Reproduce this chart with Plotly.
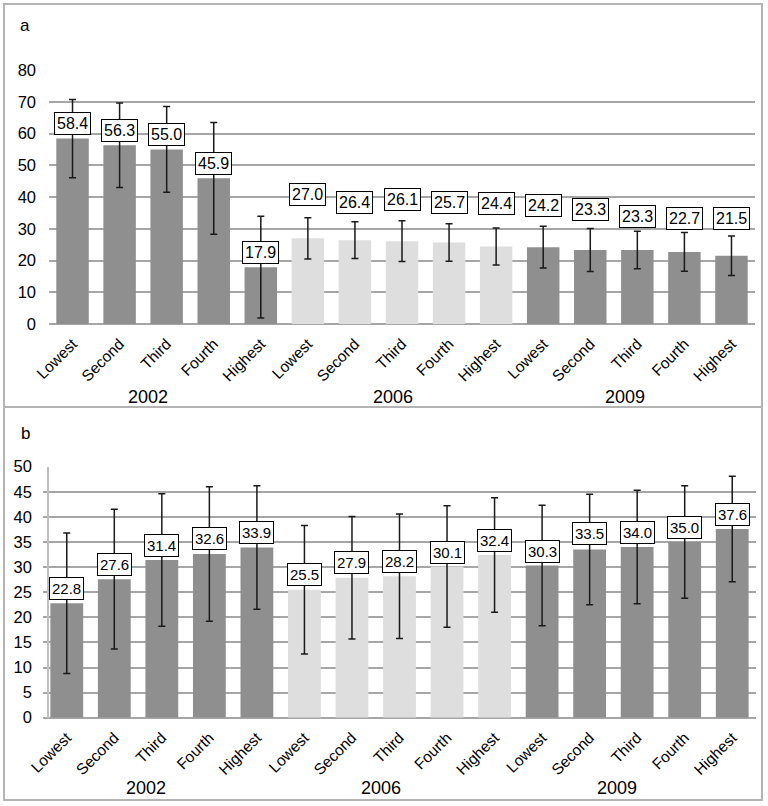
import plotly.graph_objects as go

# ---------------- data ----------------
quintiles = ["Lowest", "Second", "Third", "Fourth", "Highest"]
years = ["2002", "2006", "2009"]
categories = [q for _ in years for q in quintiles]

values_a = [58.4, 56.3, 55.0, 45.9, 17.9,
            27.0, 26.4, 26.1, 25.7, 24.4,
            24.2, 23.3, 23.3, 22.7, 21.5]
errors_a = [12.3, 13.3, 13.5, 17.6, 16.0,
            6.5, 5.8, 6.4, 5.9, 5.8,
            6.6, 6.8, 5.9, 6.1, 6.2]

values_b = [22.8, 27.6, 31.4, 32.6, 33.9,
            25.5, 27.9, 28.2, 30.1, 32.4,
            30.3, 33.5, 34.0, 35.0, 37.6]
errors_b = [14.0, 13.9, 13.2, 13.4, 12.3,
            12.8, 12.2, 12.4, 12.1, 11.4,
            12.0, 11.0, 11.3, 11.2, 10.5]

yticks_a = [0, 10, 20, 30, 40, 50, 60, 70, 80]
yticks_b = [0, 5, 10, 15, 20, 25, 30, 35, 40, 45, 50]

# ---------------- layout helpers (positions / styles) ----------------
# data-label centre heights (in axis units) as placed in the original
label_y_a = [63.0, 60.9, 59.6, 50.6, 22.5,
             40.9, 38.2, 39.1, 38.2, 37.8,
             37.3, 36.1, 33.8, 33.3, 33.3]
label_y_b = [25.7, 30.5, 34.3, 35.6, 36.9,
             28.5, 30.9, 31.2, 33.0, 35.3,
             33.1, 36.6, 36.9, 37.9, 40.5]

DARK = "#8f8f8f"
LIGHT = "#dedede"
GRID = "#a6a6a6"
W, H = 768, 806
FONT = "Liberation Sans, Arial, sans-serif"

year_colors = [DARK, LIGHT, DARK]
colors = [year_colors[i // len(quintiles)] for i in range(len(categories))]
xpos = list(range(len(categories)))


def px(x):
    return x / W


def py(y):
    return 1 - y / H


fig = go.Figure()

for vals, errs, xa, ya in [(values_a, errors_a, "x", "y"),
                           (values_b, errors_b, "x2", "y2")]:
    fig.add_trace(go.Bar(
        x=xpos, y=vals, xaxis=xa, yaxis=ya,
        marker=dict(color=colors, line=dict(width=0)),
        width=0.69,
        error_y=dict(type="data", array=errs, visible=True,
                     color="#1a1a1a", thickness=1.5, width=3.5),
        showlegend=False, hoverinfo="skip",
    ))

annotations = []
for vals, ly, xa, ya, fs in [(values_a, label_y_a, "x", "y", 16),
                             (values_b, label_y_b, "x2", "y2", 15)]:
    for i, (v, yy) in enumerate(zip(vals, ly)):
        annotations.append(dict(
            x=i, y=yy, xref=xa, yref=ya, text=f"{v:.1f}", showarrow=False,
            font=dict(family=FONT, size=fs, color="black"),
            bgcolor="white", bordercolor="black", borderwidth=1, borderpad=2,
            xanchor="center", yanchor="middle",
        ))

# year group labels
year_x_a = [148, 393, 625]
year_x_b = [146, 381, 617]
for yr, xa_px, xb_px in zip(years, year_x_a, year_x_b):
    annotations.append(dict(x=px(xa_px), y=py(397), xref="paper", yref="paper",
                            text=yr, showarrow=False,
                            font=dict(family=FONT, size=18, color="black"),
                            xanchor="center", yanchor="middle"))
    annotations.append(dict(x=px(xb_px), y=py(788), xref="paper", yref="paper",
                            text=yr, showarrow=False,
                            font=dict(family=FONT, size=18, color="black"),
                            xanchor="center", yanchor="middle"))

# panel letters
annotations.append(dict(x=px(25), y=py(25), xref="paper", yref="paper", text="a",
                        showarrow=False, font=dict(family=FONT, size=17, color="black"),
                        xanchor="center", yanchor="middle"))
annotations.append(dict(x=px(25), y=py(433), xref="paper", yref="paper", text="b",
                        showarrow=False, font=dict(family=FONT, size=17, color="black"),
                        xanchor="center", yanchor="middle"))

shapes = [
    # panel frames
    dict(type="rect", xref="paper", yref="paper", x0=px(4), x1=px(762),
         y0=py(407), y1=py(4), line=dict(color="#b4b4b4", width=2)),
    dict(type="rect", xref="paper", yref="paper", x0=px(4), x1=px(762),
         y0=py(800), y1=py(407), line=dict(color="#b4b4b4", width=2)),
]

xaxis_common = dict(
    tickmode="array", tickvals=xpos, ticktext=categories, tickangle=-45,
    range=[-0.5, len(categories) - 0.5], showgrid=False, zeroline=False,
    ticks="", automargin=False, ticklabelstandoff=7,
    tickfont=dict(family=FONT, size=15.5, color="black"),
)

fig.update_layout(
    width=W, height=H,
    margin=dict(l=0, r=0, t=0, b=0),
    paper_bgcolor="white", plot_bgcolor="white",
    bargap=0.31,
    xaxis=dict(domain=[px(49), px(755)], anchor="y",
               showline=False, **xaxis_common),
    yaxis=dict(domain=[py(324), py(70)], range=[0, 80], tickvals=yticks_a,
               showgrid=True, gridcolor=GRID, gridwidth=1.5,
               zeroline=True, zerolinecolor=GRID, zerolinewidth=1.5,
               showline=False, ticks="", ticklabelstandoff=12, automargin=False,
               tickfont=dict(family=FONT, size=16.5, color="black")),
    xaxis2=dict(domain=[px(43), px(756)], anchor="y2",
                showline=False, **xaxis_common),
    yaxis2=dict(domain=[py(717.7), py(466.7)], range=[0, 50], tickvals=yticks_b,
                showgrid=True, gridcolor=GRID, gridwidth=1.5,
                zeroline=True, zerolinecolor=GRID, zerolinewidth=1.5,
                showline=True, linecolor="#c0c0c0", linewidth=1.5,
                ticks="", ticklabelstandoff=12, automargin=False,
                tickfont=dict(family=FONT, size=16.5, color="black")),
    annotations=annotations,
    shapes=shapes,
)

fig.write_html("out.html",
               config={"displayModeBar": False},
               post_script="document.body.style.margin='0px';"
                           "document.body.style.overflow='hidden';")
